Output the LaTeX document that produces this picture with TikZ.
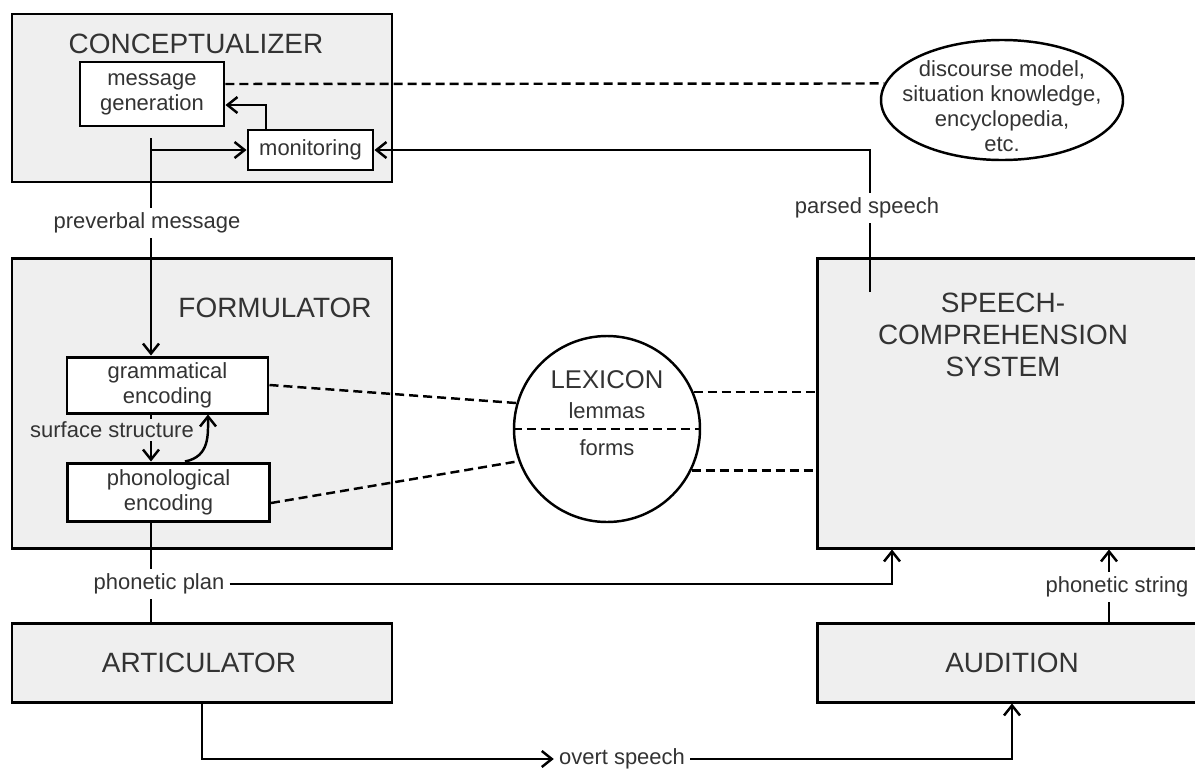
\documentclass[tikz,border=0pt]{standalone}
\usepackage{fontspec}
\setmainfont{Liberation Sans}
\usetikzlibrary{arrows.meta,shapes.geometric,fit,calc}
\definecolor{boxgray}{RGB}{239,239,239}
\definecolor{textgray}{RGB}{51,51,51}

\tikzset{
  bigbox/.style={draw, line width=1.7pt, fill=boxgray, inner sep=0pt},
  subbox/.style={draw, line width=1.7pt, fill=white, inner sep=0pt, align=center,
    text=textgray, font=\fontsize{12.5}{14.2}\selectfont},
  heading/.style={text=textgray, align=center, font=\fontsize{15.9}{18.2}\selectfont},
  lbl/.style={fill=white, inner sep=1mm, text=textgray, font=\fontsize{12.5}{14.2}\selectfont},
  flow/.style={line width=1.4pt, -{Straight Barb[length=2mm,width=3.2mm]}},
  link/.style={line width=1.4pt},
  dashlink/.style={line width=1.4pt, dash pattern=on 1.8mm off 1mm},
}

\begin{document}
\begin{tikzpicture}[x=0.2mm, y=-0.2mm]
    \useasboundingbox (0,0) rectangle (1195,770);
    \clip (0,0) rectangle (1195,770);

    % Main components
    \node[bigbox, fit={(12,14) (392,182)}] (concept) {};
    \node[bigbox, fit={(12,258) (392,548)}] (formul) {};
    \node[bigbox, fit={(12,623) (392,702)}] (artic) {};
    \node[bigbox, fit={(817,258) (1207,548)}] (comp) {};
    \node[bigbox, fit={(817,623) (1207,702)}] (aud) {};

    \node[heading] (conceptT) at (196,44) {CONCEPTUALIZER};
    \node[heading] (formulT) at (275,308) {FORMULATOR};
    \node[heading] (articT) at (199,663) {ARTICULATOR};
    \node[heading] (audT) at (1012,663) {AUDITION};
    \node[heading] (compT) at (1003,335) {SPEECH-\\COMPREHENSION\\SYSTEM};

    % Inner processing steps
    \node[subbox, minimum width=28.8mm, minimum height=12.8mm] (msg) at (152,94) {message\\generation};
    \node[subbox, minimum width=25mm, minimum height=8mm] (mon) at (310.5,150) {monitoring};
    \node[subbox, minimum width=40.2mm, minimum height=11.2mm] (gram) at (167.5,385) {grammatical\\encoding};
    \node[subbox, minimum width=40.4mm, minimum height=11.6mm] (phon) at (168.5,492) {phonological\\encoding};

    % Knowledge stores
    \node[draw, ellipse, line width=1.4pt, minimum width=48.4mm, minimum height=24mm, inner sep=0pt] (world) at (1002,100) {};
    \node[text=textgray, align=center, font=\fontsize{12.5}{14.2}\selectfont] (worldT) at (1002,106)
        {discourse model,\\situation knowledge,\\encyclopedia,\\etc.};
    \node[draw, circle, line width=1.4pt, fill=white, minimum size=37.2mm, inner sep=0pt] (lex) at (607,429) {};
    \node[text=textgray, font=\fontsize{14.6}{16}\selectfont] (lexT) at (607,380) {LEXICON};
    \node[text=textgray, font=\fontsize{12.5}{14.2}\selectfont] (lemmas) at (607,411) {lemmas};
    \node[text=textgray, font=\fontsize{12.5}{14.2}\selectfont] (forms) at (607,448) {forms};

    % Dashed links to the stores
    \draw[dashlink] (lex.west) -- (lex.east);
    \draw[dashlink] ([yshift=2mm]msg.east) -- (world.172);
    \draw[dashlink] (gram.east) -- (lex.164);
    \draw[dashlink] ([yshift=-2.2mm]phon.east) -- (lex.200);
    \draw[dashlink] (lex.23) -- (lex.23 -| comp.west);
    \draw[dashlink] (lex.-26) -- (lex.-26 -| comp.west);

    % Production flow
    \coordinate (pv) at (151,138);
    \draw[flow] (pv) -- (pv |- gram.north);
    \draw[flow] (pv |- mon.west) -- (mon.west);
    \node[lbl] (prev) at (147,223) {preverbal message};
    \draw[flow] ([xshift=-8.9mm]mon.north) |- ([yshift=-2.2mm]msg.east);

    \draw[flow] (gram.south -| pv) -- (phon.north -| pv);
    \node[lbl, fill=boxgray, inner sep=0.5mm] (surf) at (112,430) {surface structure};
    \draw[flow] ([xshift=3.3mm]phon.north) .. controls +(5mm,1mm) and +(0,-4mm) .. ([xshift=8.1mm]gram.south);

    \draw[link] (phon.south -| pv) -- (artic.north -| pv);
    \node[lbl] (plan) at (159,584) {phonetic plan};
    \draw[flow] (plan.east) -| ([xshift=-24mm]comp.south);

    \node[lbl] (overt) at (622,759) {overt speech};
    \draw[flow] (artic.south) |- (overt.west);
    \draw[flow] (overt.east) -| (aud.south);

    % Comprehension flow
    \draw[flow] ([xshift=19.4mm]aud.north) -- ([xshift=19.4mm]aud.north |- comp.south);
    \node[lbl] (pstring) at (1117,587) {phonetic string};

    \coordinate (ps) at (870,292);
    \draw[flow] (ps) |- (mon.east);
    \node[lbl] (parsed) at (867,208) {parsed speech};
\end{tikzpicture}
\end{document}
